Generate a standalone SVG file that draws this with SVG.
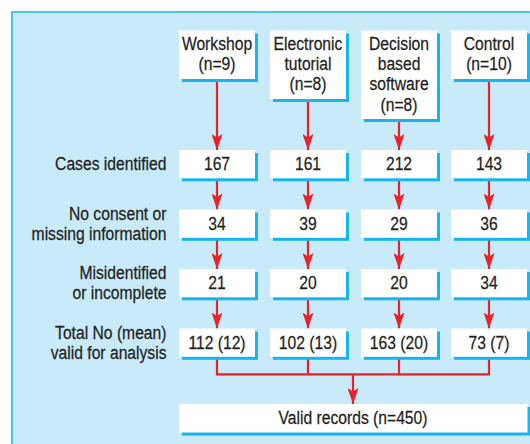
<svg xmlns="http://www.w3.org/2000/svg" width="530" height="444" viewBox="0 0 530 444">
<defs>
<style>
.bx{fill:#ffffff}
.sh{fill:#18b4ec}
.t{font-family:"Liberation Sans",Arial,sans-serif;font-size:17.6px;fill:#231f20;stroke:#231f20;stroke-width:0.25;text-anchor:middle}
.l{font-family:"Liberation Sans",Arial,sans-serif;font-size:17.6px;fill:#231f20;stroke:#231f20;stroke-width:0.25;text-anchor:end}
.c{fill:none;stroke:#e8212b;stroke-width:2.2}
</style>
<marker id="ah" markerUnits="userSpaceOnUse" viewBox="0 0 16 11" refX="16" refY="5.5" markerWidth="16" markerHeight="11" orient="auto">
<path d="M0,0 L16,5.5 L0,11 L3.5,5.5 Z" fill="#e8212b"/>
</marker>
</defs>
<rect x="0" y="0" width="530" height="444" fill="#ffffff"/>
<rect x="11" y="11" width="519" height="433" fill="#c8eaf9"/>
<path d="M12,444 V12 H530" fill="none" stroke="#4cc2ef" stroke-width="2"/>

<g id="connectors">
<path class="c" d="M217,79 V150" marker-end="url(#ah)"/>
<path class="c" d="M308,99 V150" marker-end="url(#ah)"/>
<path class="c" d="M399,119 V150" marker-end="url(#ah)"/>
<path class="c" d="M489,79 V150" marker-end="url(#ah)"/>
<path class="c" d="M217,178.3 V209.5" marker-end="url(#ah)"/>
<path class="c" d="M308,178.3 V209.5" marker-end="url(#ah)"/>
<path class="c" d="M399,178.3 V209.5" marker-end="url(#ah)"/>
<path class="c" d="M489,178.3 V209.5" marker-end="url(#ah)"/>
<path class="c" d="M217,237.8 V269" marker-end="url(#ah)"/>
<path class="c" d="M308,237.8 V269" marker-end="url(#ah)"/>
<path class="c" d="M399,237.8 V269" marker-end="url(#ah)"/>
<path class="c" d="M489,237.8 V269" marker-end="url(#ah)"/>
<path class="c" d="M217,297.3 V328.5" marker-end="url(#ah)"/>
<path class="c" d="M308,297.3 V328.5" marker-end="url(#ah)"/>
<path class="c" d="M399,297.3 V328.5" marker-end="url(#ah)"/>
<path class="c" d="M489,297.3 V328.5" marker-end="url(#ah)"/>
<path class="c" d="M217,356.8 V374.3 H489 V356.8 M308,356.8 V374.3 M399,356.8 V374.3"/>
<path class="c" d="M353,374.3 V404" marker-end="url(#ah)"/>
</g>

<g id="workshop">
<rect class="sh" x="182" y="33.5" width="76" height="48.5"/>
<rect class="bx" x="179" y="30.5" width="76" height="48.5"/>
<text class="t" transform="translate(217,49.7) scale(.89,1)"><tspan x="0" y="0">Workshop</tspan><tspan x="0" dy="20.3">(n=9)</tspan></text>
</g>
<g id="electronic">
<rect class="sh" x="273" y="33.5" width="76" height="68.5"/>
<rect class="bx" x="270" y="30.5" width="76" height="68.5"/>
<text class="t" transform="translate(308,49.7) scale(.89,1)"><tspan x="0" y="0">Electronic</tspan><tspan x="0" dy="20.3">tutorial</tspan><tspan x="0" dy="20.3">(n=8)</tspan></text>
</g>
<g id="decision">
<rect class="sh" x="364" y="33.5" width="76" height="88.5"/>
<rect class="bx" x="361" y="30.5" width="76" height="88.5"/>
<text class="t" transform="translate(399,49.7) scale(.89,1)"><tspan x="0" y="0">Decision</tspan><tspan x="0" dy="20.3">based</tspan><tspan x="0" dy="20.3">software</tspan><tspan x="0" dy="20.3">(n=8)</tspan></text>
</g>
<g id="control">
<rect class="sh" x="454" y="33.5" width="76" height="48.5"/>
<rect class="bx" x="451" y="30.5" width="76" height="48.5"/>
<text class="t" transform="translate(489,49.7) scale(.89,1)"><tspan x="0" y="0">Control</tspan><tspan x="0" dy="20.3">(n=10)</tspan></text>
</g>

<g id="label-cases">
<text class="l" transform="translate(166.5,170) scale(.89,1)">Cases identified</text>
</g>
<g id="label-consent">
<text class="l" transform="translate(166.5,219.6) scale(.89,1)"><tspan x="0" y="0">No consent or</tspan><tspan x="0" dy="20.4">missing information</tspan></text>
</g>
<g id="label-misidentified">
<text class="l" transform="translate(166.5,279) scale(.89,1)"><tspan x="0" y="0">Misidentified</tspan><tspan x="0" dy="20.4">or incomplete</tspan></text>
</g>
<g id="label-total">
<text class="l" transform="translate(166.5,338.6) scale(.89,1)"><tspan x="0" y="0">Total No (mean)</tspan><tspan x="0" dy="20.4">valid for analysis</tspan></text>
</g>

<g id="w-cases"><rect class="sh" x="182" y="153" width="76" height="28.3"/><rect class="bx" x="179" y="150" width="76" height="28.3"/><text class="t" transform="translate(217,170.2) scale(.89,1)">167</text></g>
<g id="e-cases"><rect class="sh" x="273" y="153" width="76" height="28.3"/><rect class="bx" x="270" y="150" width="76" height="28.3"/><text class="t" transform="translate(308,170.2) scale(.89,1)">161</text></g>
<g id="d-cases"><rect class="sh" x="364" y="153" width="76" height="28.3"/><rect class="bx" x="361" y="150" width="76" height="28.3"/><text class="t" transform="translate(399,170.2) scale(.89,1)">212</text></g>
<g id="c-cases"><rect class="sh" x="454" y="153" width="76" height="28.3"/><rect class="bx" x="451" y="150" width="76" height="28.3"/><text class="t" transform="translate(489,170.2) scale(.89,1)">143</text></g>

<g id="w-consent"><rect class="sh" x="182" y="212.5" width="76" height="28.3"/><rect class="bx" x="179" y="209.5" width="76" height="28.3"/><text class="t" transform="translate(217,229.8) scale(.89,1)">34</text></g>
<g id="e-consent"><rect class="sh" x="273" y="212.5" width="76" height="28.3"/><rect class="bx" x="270" y="209.5" width="76" height="28.3"/><text class="t" transform="translate(308,229.8) scale(.89,1)">39</text></g>
<g id="d-consent"><rect class="sh" x="364" y="212.5" width="76" height="28.3"/><rect class="bx" x="361" y="209.5" width="76" height="28.3"/><text class="t" transform="translate(399,229.8) scale(.89,1)">29</text></g>
<g id="c-consent"><rect class="sh" x="454" y="212.5" width="76" height="28.3"/><rect class="bx" x="451" y="209.5" width="76" height="28.3"/><text class="t" transform="translate(489,229.8) scale(.89,1)">36</text></g>

<g id="w-misid"><rect class="sh" x="182" y="272" width="76" height="28.3"/><rect class="bx" x="179" y="269" width="76" height="28.3"/><text class="t" transform="translate(217,289.3) scale(.89,1)">21</text></g>
<g id="e-misid"><rect class="sh" x="273" y="272" width="76" height="28.3"/><rect class="bx" x="270" y="269" width="76" height="28.3"/><text class="t" transform="translate(308,289.3) scale(.89,1)">20</text></g>
<g id="d-misid"><rect class="sh" x="364" y="272" width="76" height="28.3"/><rect class="bx" x="361" y="269" width="76" height="28.3"/><text class="t" transform="translate(399,289.3) scale(.89,1)">20</text></g>
<g id="c-misid"><rect class="sh" x="454" y="272" width="76" height="28.3"/><rect class="bx" x="451" y="269" width="76" height="28.3"/><text class="t" transform="translate(489,289.3) scale(.89,1)">34</text></g>

<g id="w-total"><rect class="sh" x="182" y="331.5" width="76" height="28.3"/><rect class="bx" x="179" y="328.5" width="76" height="28.3"/><text class="t" transform="translate(217,348.8) scale(.89,1)">112 (12)</text></g>
<g id="e-total"><rect class="sh" x="273" y="331.5" width="76" height="28.3"/><rect class="bx" x="270" y="328.5" width="76" height="28.3"/><text class="t" transform="translate(308,348.8) scale(.89,1)">102 (13)</text></g>
<g id="d-total"><rect class="sh" x="364" y="331.5" width="76" height="28.3"/><rect class="bx" x="361" y="328.5" width="76" height="28.3"/><text class="t" transform="translate(399,348.8) scale(.89,1)">163 (20)</text></g>
<g id="c-total"><rect class="sh" x="454" y="331.5" width="76" height="28.3"/><rect class="bx" x="451" y="328.5" width="76" height="28.3"/><text class="t" transform="translate(489,348.8) scale(.89,1)">73 (7)</text></g>

<g id="valid-records">
<rect class="sh" x="182" y="407" width="348.5" height="28.5"/>
<rect class="bx" x="179" y="404" width="348.5" height="28.5"/>
<text class="t" transform="translate(353,424.4) scale(.89,1)">Valid records (n=450)</text>
</g>
</svg>
